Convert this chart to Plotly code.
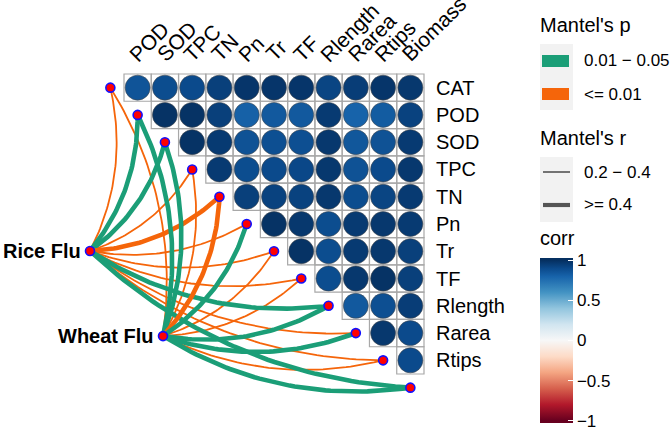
import numpy as np
import plotly.graph_objects as go

# ---------------- data ----------------
variables = ["CAT", "POD", "SOD", "TPC", "TN", "Pn", "Tr", "TF",
             "Rlength", "Rarea", "Rtips", "Biomass"]
row_vars = variables[:-1]          # matrix rows (right labels)
col_vars = variables[1:]           # matrix columns (top labels)

# upper-triangle correlations: each row lists corr with the following variables
corr_CAT = [0.86, 0.89, 0.90, 0.94, 0.98, 0.98, 0.98, 0.92, 0.95, 0.98, 0.97]
corr_POD = [0.99, 0.99, 0.94, 0.81, 0.84, 0.84, 0.96, 0.80, 0.83, 0.93]
corr_SOD = [0.99, 0.96, 0.87, 0.88, 0.88, 0.97, 0.85, 0.87, 0.96]
corr_TPC = [0.96, 0.89, 0.90, 0.91, 0.97, 0.87, 0.90, 0.97]
corr_TN = [0.94, 0.93, 0.93, 0.97, 0.89, 0.92, 0.96]
corr_Pn = [0.99, 0.97, 0.89, 0.96, 0.97, 0.96]
corr_Tr = [0.99, 0.89, 0.96, 0.97, 0.94]
corr_TF = [0.89, 0.97, 0.99, 0.94]
corr_Rlength = [0.84, 0.88, 0.95]
corr_Rarea = [0.97, 0.90]
corr_Rtips = [0.90]
corr_rows = [corr_CAT, corr_POD, corr_SOD, corr_TPC, corr_TN, corr_Pn,
             corr_Tr, corr_TF, corr_Rlength, corr_Rarea, corr_Rtips]

env_names = ["Rice Flu", "Wheat Flu"]
P_MID, P_LOW = "0.01 \u2212 0.05", "<= 0.01"
R_LOW, R_HIGH = "0.2 \u2212 0.4", ">= 0.4"
# Mantel p / r classes for each env, in the order of `variables`
rice_p = [P_LOW, P_MID, P_MID, P_LOW, P_LOW, P_LOW, P_LOW, P_LOW, P_MID, P_LOW, P_LOW, P_MID]
rice_r = [R_LOW, R_HIGH, R_HIGH, R_LOW, R_HIGH, R_LOW, R_LOW, R_LOW, R_HIGH, R_LOW, R_LOW, R_HIGH]
wheat_p = [P_LOW, P_MID, P_MID, P_LOW, P_LOW, P_MID, P_LOW, P_LOW, P_MID, P_MID, P_LOW, P_MID]
wheat_r = [R_LOW, R_HIGH, R_HIGH, R_LOW, R_HIGH, R_HIGH, R_LOW, R_LOW, R_HIGH, R_HIGH, R_LOW, R_HIGH]

corr_ticks = [-1, -0.5, 0, 0.5, 1]
corr_ticktext = ["\u22121", "\u22120.5", "0", "0.5", "1"]

# ---------------- styles / layout ----------------
W, H = 671, 430
CELL = 300 / 11.0
X0PX, Y0PX = 124, 74
FONT = "Liberation Sans, Arial, sans-serif"
GREEN = "#1B9E77"
ORANGE = "#F5650A"
P_COLORS = {P_MID: GREEN, P_LOW: ORANGE}
R_WIDTHS = {R_LOW: 1.8, R_HIGH: 4.6}
CMAX = 1.03
stops = [(-1.0, "#67001F"), (-0.8, "#B2182B"), (-0.6, "#D6604D"), (-0.4, "#F4A582"),
         (-0.2, "#FDDBC7"), (0.0, "#F7F7F7"), (0.2, "#D1E5F0"), (0.4, "#92C5DE"),
         (0.6, "#4393C3"), (0.8, "#1763AA"), (0.9, "#0B4A8C"), (1.0, "#053061")]
colorscale = [[0.0, stops[0][1]]] + [[(v + CMAX) / (2 * CMAX), c] for v, c in stops] + [[1.0, stops[-1][1]]]

# env node layout positions (matrix cell units)
env_pos = {"Rice Flu": (-1.247, 6.49), "Wheat Flu": (1.43, 9.61)}

def px2x(px):
    return (px - X0PX) / CELL

def px2y(py):
    return (py - Y0PX) / CELL

def pxp(px):  # paper x
    return px / W

def pyp(py):  # paper y
    return 1 - py / H

fig = go.Figure()
shapes = []
annotations = []

# grid
n = len(row_vars)
for i in range(n):
    for j in range(i, n):
        shapes.append(dict(type="rect", xref="x", yref="y", x0=j, x1=j + 1, y0=i, y1=i + 1,
                           line=dict(color="#A8A8A8", width=1.2), fillcolor="rgba(0,0,0,0)",
                           layer="below"))

# circles
cx, cy, cv = [], [], []
for i, row in enumerate(corr_rows):
    for k, v in enumerate(row):
        j = i + k
        cx.append(j + 0.5)
        cy.append(i + 0.5)
        cv.append(v)

fig.add_trace(go.Scatter(
    x=cx, y=cy, mode="markers", hoverinfo="skip",
    marker=dict(size=25, color=cv, colorscale=colorscale, cmin=-CMAX, cmax=CMAX,
                line=dict(color="rgba(70,70,70,0.7)", width=0.8),
                showscale=True,
                colorbar=dict(x=pxp(540), xanchor="left", y=pyp(258), yanchor="top",
                              len=165, lenmode="pixels", thickness=33, thicknessmode="pixels",
                              outlinewidth=0, tickvals=corr_ticks, ticktext=corr_ticktext,
                              ticks="inside", ticklen=5, tickcolor="white", tickwidth=1,
                              ticklabeloverflow="allow",
                              tickfont=dict(size=17, color="black", family=FONT),
                              xpad=0, ypad=0)),
))

# links
def bezier(p0, p2, c=0.18, npts=50):
    p0 = np.asarray(p0, float)
    p2 = np.asarray(p2, float)
    d = p2 - p0
    perp = np.array([-d[1], d[0]])
    p1 = (p0 + p2) / 2 + c * perp
    t = np.linspace(0, 1, npts)[:, None]
    pts = (1 - t) ** 2 * p0 + 2 * (1 - t) * t * p1 + t ** 2 * p2
    return pts[:, 0], pts[:, 1]

node_xy = [(k - 0.5, k + 0.5) for k in range(len(variables))]
links = []
for env, pcls, rcls in [("Rice Flu", rice_p, rice_r), ("Wheat Flu", wheat_p, wheat_r)]:
    for k in range(len(variables)):
        links.append((env, k, pcls[k], rcls[k]))
# thin first, thick on top
links.sort(key=lambda t: R_WIDTHS[t[3]])
for env, k, pc, rc in links:
    xs, ys = bezier(env_pos[env], node_xy[k])
    fig.add_trace(go.Scatter(x=xs, y=ys, mode="lines", hoverinfo="skip",
                             line=dict(color=P_COLORS[pc], width=R_WIDTHS[rc])))

# nodes
all_nodes = node_xy + [env_pos[e] for e in env_names]
fig.add_trace(go.Scatter(
    x=[p[0] for p in all_nodes], y=[p[1] for p in all_nodes], mode="markers",
    hoverinfo="skip",
    marker=dict(size=9, color="#FF0000", line=dict(color="#1010FF", width=1.6))))

# labels: right side rows
for i, name in enumerate(row_vars):
    annotations.append(dict(x=11.38, y=i + 0.5, xref="x", yref="y", text=name,
                            showarrow=False, xanchor="left", yanchor="middle",
                            font=dict(size=20, color="black", family=FONT)))
# top columns (rotated)
for j, name in enumerate(col_vars):
    annotations.append(dict(x=j + 0.5 - 0.57, y=-0.2, xref="x", yref="y", text=name,
                            showarrow=False, xanchor="left", yanchor="bottom", textangle=-45,
                            font=dict(size=21, color="black", family=FONT)))
# env labels
for e in env_names:
    ex, ey = env_pos[e]
    annotations.append(dict(x=ex - 0.24, y=ey, xref="x", yref="y", text="<b>%s</b>" % e,
                            showarrow=False, xanchor="right", yanchor="middle",
                            font=dict(size=20, color="black", family=FONT)))

# legends
def ltext(px, py, txt, size):
    annotations.append(dict(x=pxp(px), y=pyp(py), xref="paper", yref="paper", text=txt,
                            showarrow=False, xanchor="left", yanchor="middle",
                            font=dict(size=size, color="black", family=FONT)))

ltext(538, 25, "Mantel's p", 20)
shapes.append(dict(type="rect", xref="paper", yref="paper", x0=pxp(540), x1=pxp(573),
                   y0=pyp(44), y1=pyp(110), fillcolor="#F2F2F2", line=dict(width=0)))
for py, key in [(61, P_MID), (94, P_LOW)]:
    shapes.append(dict(type="rect", xref="paper", yref="paper", x0=pxp(542), x1=pxp(569),
                       y0=pyp(py - 6), y1=pyp(py + 6), fillcolor=P_COLORS[key],
                       line=dict(width=0)))
    ltext(582, py, key, 17)

ltext(538, 138, "Mantel's r", 20)
shapes.append(dict(type="rect", xref="paper", yref="paper", x0=pxp(540), x1=pxp(573),
                   y0=pyp(157), y1=pyp(222), fillcolor="#F2F2F2", line=dict(width=0)))
for py, key in [(172, R_LOW), (205, R_HIGH)]:
    shapes.append(dict(type="line", xref="paper", yref="paper", x0=pxp(543), x1=pxp(570),
                       y0=pyp(py), y1=pyp(py), line=dict(color="#555555", width=R_WIDTHS[key] * 0.9)))
    ltext(582, py, key, 17)

ltext(538, 238, "corr", 20)

fig.update_layout(
    width=W, height=H, margin=dict(l=0, r=0, t=0, b=0),
    paper_bgcolor="white", plot_bgcolor="white", showlegend=False,
    xaxis=dict(range=[px2x(0), px2x(W)], visible=False, fixedrange=True),
    yaxis=dict(range=[px2y(H), px2y(0)], visible=False, fixedrange=True),
    shapes=shapes, annotations=annotations,
)

fig.write_html("out.html", config={"displayModeBar": False},
               post_script="document.body.style.margin='0';")
